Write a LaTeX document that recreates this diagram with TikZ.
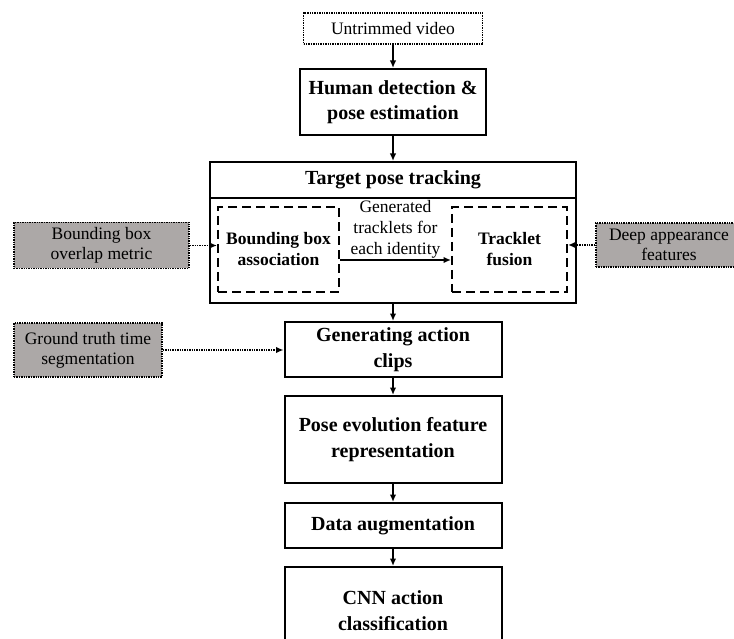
\documentclass[tikz,border=0pt]{standalone}
\usepackage{fontspec}
\setmainfont{Liberation Serif}
\usetikzlibrary{arrows.meta}

\definecolor{cuegray}{RGB}{172,168,167}

\tikzset{
	stage/.style={shape=rectangle, draw=black, line width=2pt,
				  minimum width=217pt, align=center, inner sep=2pt,
				  font=\fontsize{20}{25.5}\selectfont\bfseries},
	part/.style={shape=rectangle, draw=black, line width=2pt,
				 dash pattern=on 9pt off 5pt, align=center, inner sep=2pt,
				 minimum height=85pt,
				 font=\fontsize{17.5}{21}\selectfont\bfseries},
	cue/.style={shape=rectangle, draw=black, fill=cuegray, line width=1.6pt,
				dash pattern=on 1.4pt off 1pt, align=center, inner sep=2pt,
				font=\fontsize{17.5}{20}\selectfont},
	flow/.style={-{Latex[length=7.5pt,width=6.5pt]}, line width=1.6pt},
	hint/.style={flow, dash pattern=on 1.4pt off 1pt}
}

\begin{document}
\begin{tikzpicture}[x=1pt, y=-1pt]
	\useasboundingbox (0,0) rectangle (734,639);

	\draw (393,28.5) node[cue,
						  fill=white,
						  minimum width=179pt,
						  minimum height=31pt](video){Untrimmed video};
	\draw (393,102) node[stage,
						 minimum width=186pt,
						 minimum height=66pt](detect){Human detection \&\\pose estimation};

	\draw (393,180) node[stage,
						 minimum width=366pt,
						 minimum height=36pt](track){Target pose tracking};
	\draw (393,250.5) node[stage,
						   minimum width=366pt,
						   minimum height=105pt](trackbody){};
	\draw (278.5,249.5) node[part,
							 minimum width=121pt](assoc){Bounding box\\association};
	\draw (509.5,249.5) node[part,
							 minimum width=115pt](fusion){Tracklet\\fusion};

	\draw (101.5,245.5) node[cue,
							 minimum width=175pt,
							 minimum height=46pt](overlap){Bounding box\\overlap metric};
	\draw (669,245) node[cue,
						 minimum width=146pt,
						 minimum height=44pt](appear){Deep appearance\\features};
	\draw (88,350) node[cue,
						minimum width=148pt,
						minimum height=54pt](truth){Ground truth time\\segmentation};

	\draw (393,349.5) node[stage, minimum height=55pt](clips){Generating action\\clips};
	\draw (393,439.5) node[stage, minimum height=87pt](feature){Pose evolution feature\\representation};
	\draw (393,525.5) node[stage, minimum height=45pt](augment){Data augmentation};
	\draw (393,610.5) node[stage, minimum height=87pt](cnn){CNN action\\classification};

	\draw [flow](video) -- (detect);
	\draw [flow](detect) -- (track);
	\draw [flow](trackbody) -- (clips);
	\draw [flow](clips) -- (feature);
	\draw [flow](feature) -- (augment);
	\draw [flow](augment) -- (cnn);

	\draw [flow]([yshift=-10.5pt]assoc.east) -- ([yshift=-10.5pt]fusion.west)
		node[midway, above, align=center, inner sep=0.5pt,
			 font=\fontsize{17.5}{21}\selectfont](tracklets){Generated\\tracklets for\\each identity};

	\draw [hint](overlap.east) -- (overlap.east -| assoc.west);
	\draw [hint](appear.west) -- (appear.west -| fusion.east);
	\draw [hint](truth.east) -- (truth.east -| clips.west);
\end{tikzpicture}
\end{document}
